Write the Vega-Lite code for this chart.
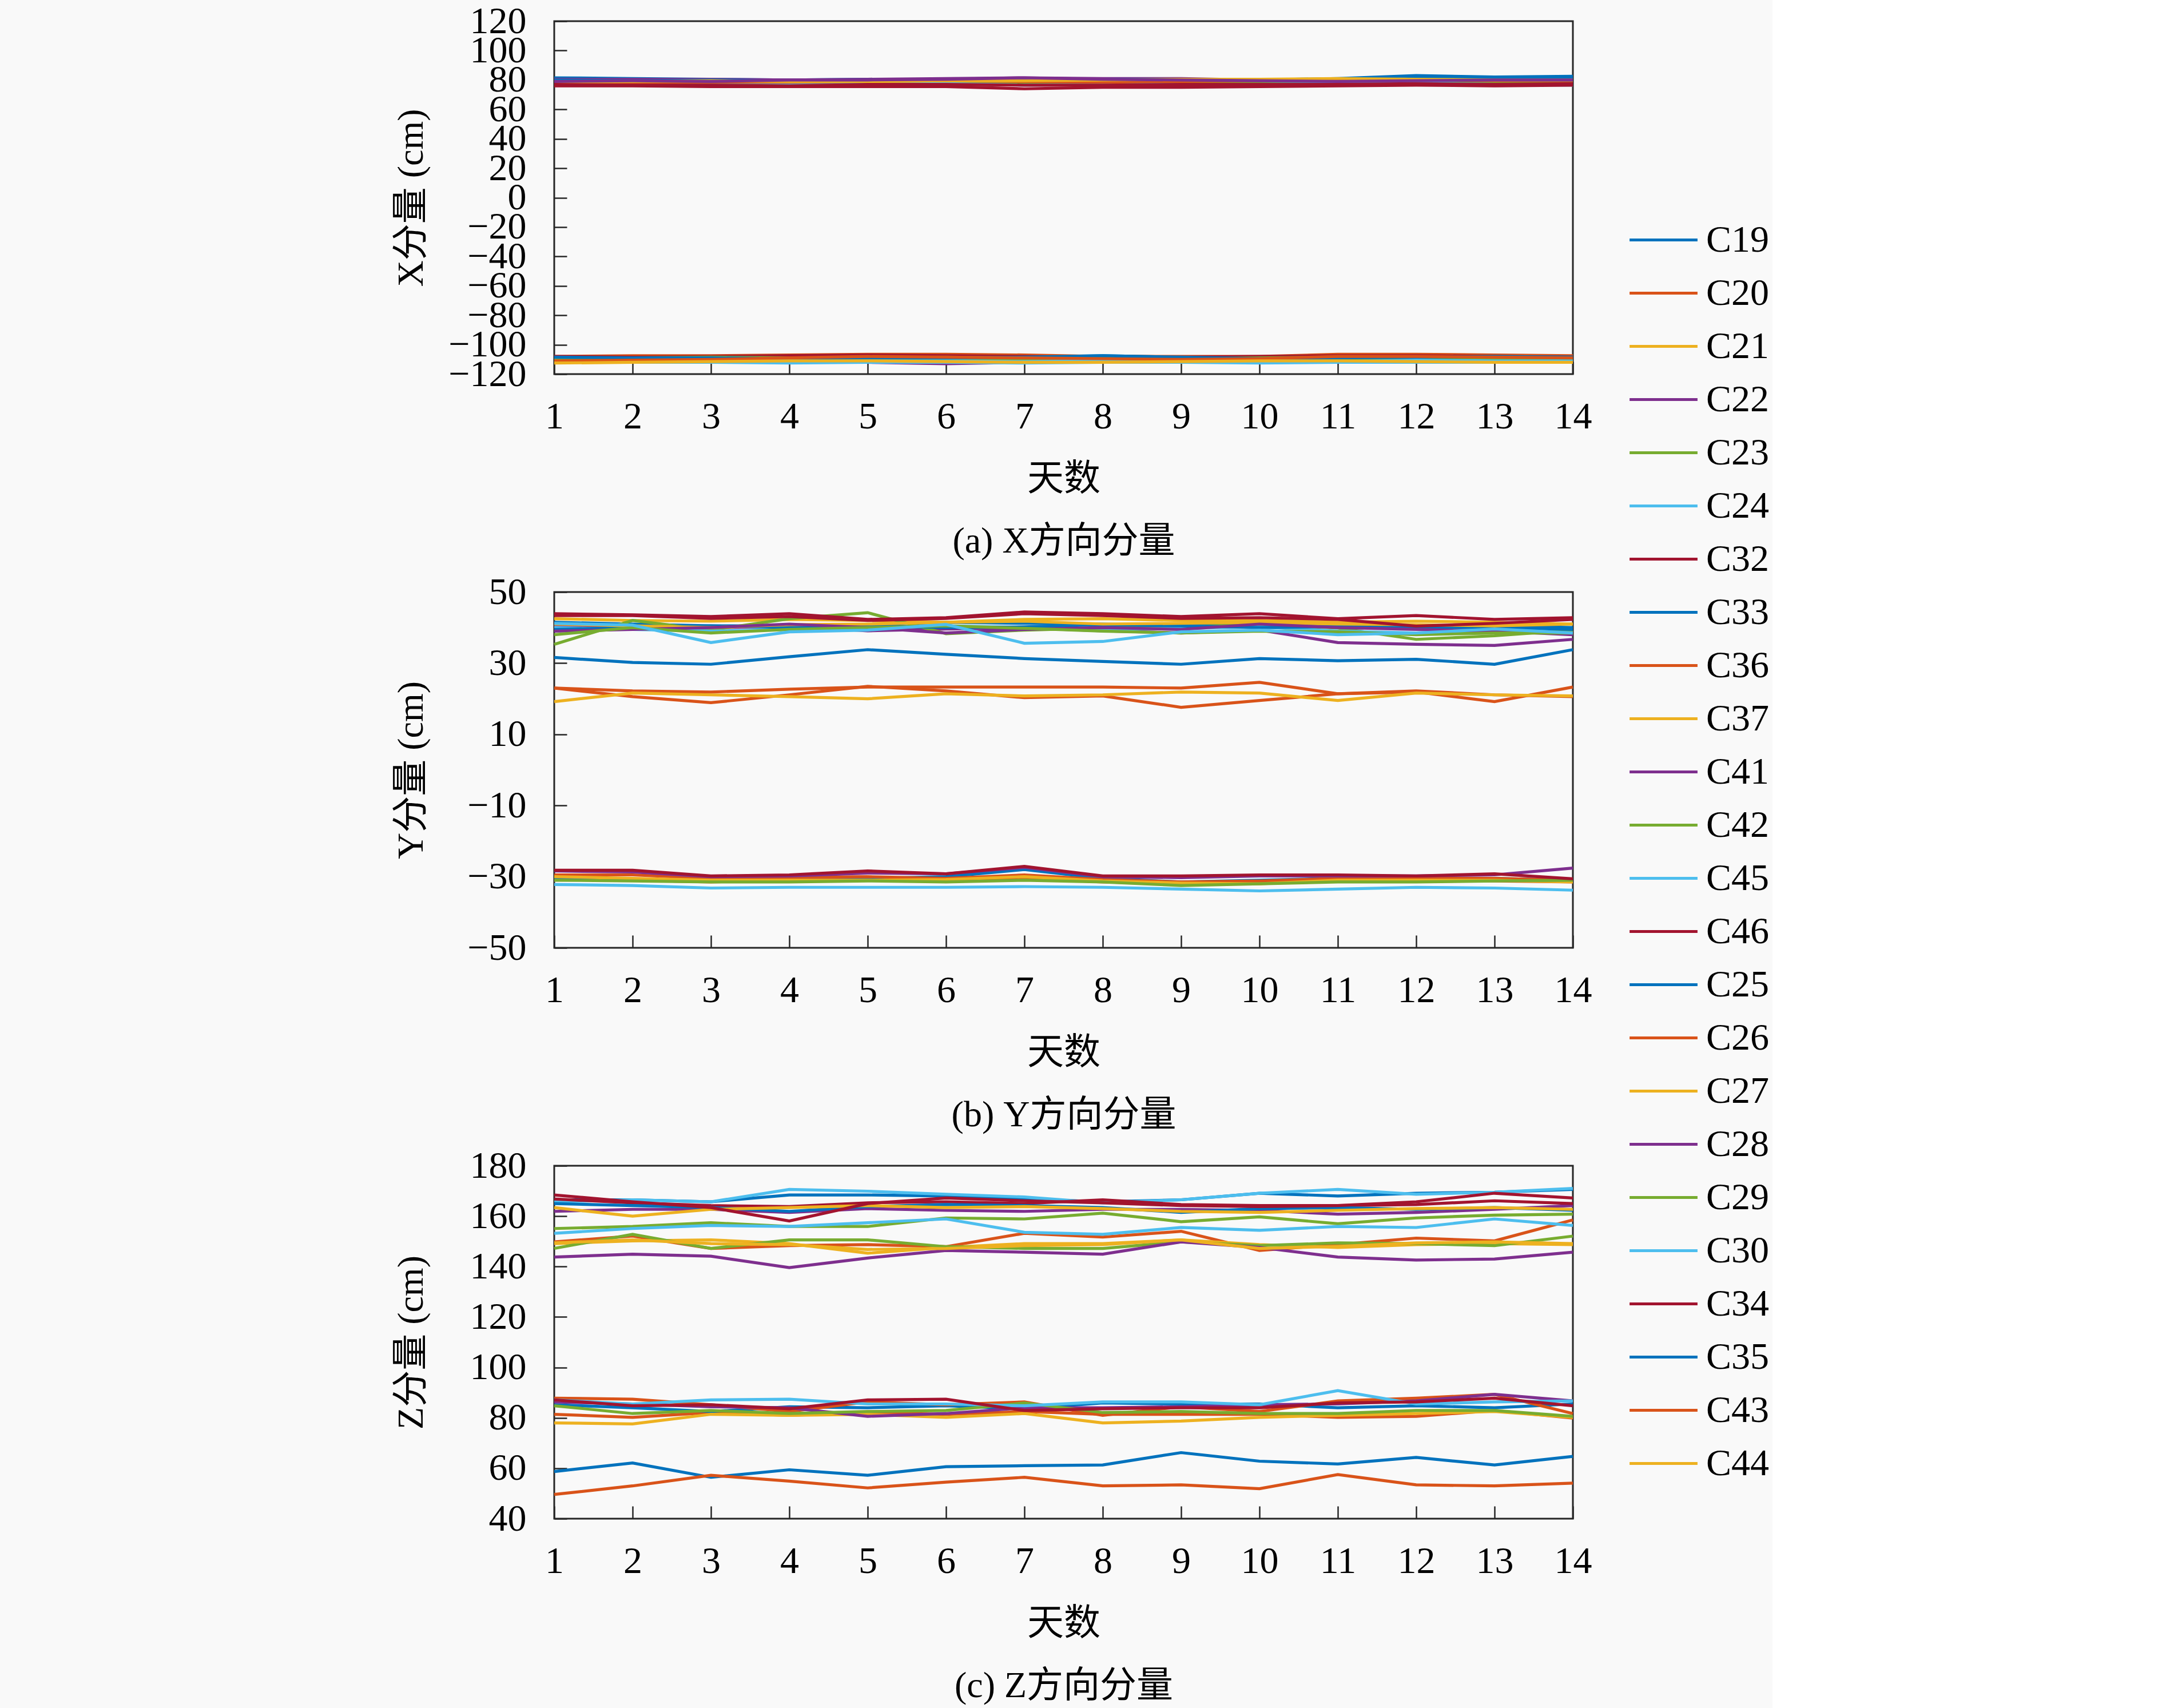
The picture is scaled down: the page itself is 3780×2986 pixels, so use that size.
{
  "$schema": "https://vega.github.io/schema/vega-lite/v6.json",
  "background": "#f9f9f9",
  "padding": {"left": 685, "top": 2, "right": 5, "bottom": 5},
  "data": {
    "values": [
      {"s":"C19","d":1,"x":81.5,"y":41.5,"z":166.5},{"s":"C19","d":2,"x":81,"y":41,"z":166.5},{"s":"C19","d":3,"x":80.5,"y":40.5,"z":165.7},{"s":"C19","d":4,"x":80,"y":40.5,"z":168.4},{"s":"C19","d":5,"x":80.5,"y":40.8,"z":168.4},{"s":"C19","d":6,"x":80,"y":41.5,"z":168},{"s":"C19","d":7,"x":80.5,"y":41.2,"z":166.8},{"s":"C19","d":8,"x":80.5,"y":41,"z":165.7},{"s":"C19","d":9,"x":80,"y":40.5,"z":166.5},{"s":"C19","d":10,"x":80,"y":41,"z":169.1},{"s":"C19","d":11,"x":81,"y":40.5,"z":168},{"s":"C19","d":12,"x":83,"y":40,"z":169.1},{"s":"C19","d":13,"x":82,"y":40.5,"z":169.5},{"s":"C19","d":14,"x":82.5,"y":40,"z":170.6},
      {"s":"C20","d":1,"x":78,"y":23,"z":149.8},{"s":"C20","d":2,"x":78.5,"y":22.2,"z":152.1},{"s":"C20","d":3,"x":79,"y":21.9,"z":147.2},{"s":"C20","d":4,"x":79,"y":22.7,"z":148.3},{"s":"C20","d":5,"x":79.5,"y":23.3,"z":148.7},{"s":"C20","d":6,"x":80,"y":23.3,"z":147.9},{"s":"C20","d":7,"x":79,"y":23.3,"z":153.2},{"s":"C20","d":8,"x":79,"y":23.3,"z":151.7},{"s":"C20","d":9,"x":79.5,"y":23,"z":154},{"s":"C20","d":10,"x":79,"y":24.6,"z":146.4},{"s":"C20","d":11,"x":79,"y":21.4,"z":148.7},{"s":"C20","d":12,"x":79.5,"y":22.2,"z":151.3},{"s":"C20","d":13,"x":79,"y":21.1,"z":150.2},{"s":"C20","d":14,"x":79,"y":20.6,"z":158.5},
      {"s":"C21","d":1,"x":79,"y":42.5,"z":149.1},{"s":"C21","d":2,"x":79,"y":42,"z":150.2},{"s":"C21","d":3,"x":78.5,"y":41.8,"z":150.6},{"s":"C21","d":4,"x":78.5,"y":42.3,"z":149.1},{"s":"C21","d":5,"x":78,"y":42,"z":145.3},{"s":"C21","d":6,"x":78,"y":41.5,"z":147.6},{"s":"C21","d":7,"x":78.5,"y":42.3,"z":149.1},{"s":"C21","d":8,"x":79,"y":42.5,"z":149.1},{"s":"C21","d":9,"x":79,"y":42,"z":150.6},{"s":"C21","d":10,"x":80.5,"y":42,"z":148.7},{"s":"C21","d":11,"x":80,"y":41.5,"z":147.6},{"s":"C21","d":12,"x":79.5,"y":41.8,"z":148.7},{"s":"C21","d":13,"x":79,"y":41.5,"z":149.1},{"s":"C21","d":14,"x":79.5,"y":41,"z":148.7},
      {"s":"C22","d":1,"x":80.5,"y":40.4,"z":161.9},{"s":"C22","d":2,"x":80.5,"y":39.9,"z":162.7},{"s":"C22","d":3,"x":80.5,"y":39.9,"z":162.7},{"s":"C22","d":4,"x":80,"y":40.4,"z":161.5},{"s":"C22","d":5,"x":80.5,"y":39.1,"z":163},{"s":"C22","d":6,"x":81,"y":39.6,"z":162.3},{"s":"C22","d":7,"x":81.5,"y":39.9,"z":161.9},{"s":"C22","d":8,"x":81,"y":39.1,"z":162.7},{"s":"C22","d":9,"x":81,"y":38.5,"z":162.7},{"s":"C22","d":10,"x":80,"y":39.3,"z":162.3},{"s":"C22","d":11,"x":80,"y":35.8,"z":160.8},{"s":"C22","d":12,"x":80.5,"y":35.3,"z":161.5},{"s":"C22","d":13,"x":80.5,"y":35,"z":162.7},{"s":"C22","d":14,"x":81,"y":36.7,"z":164.2},
      {"s":"C23","d":1,"x":78,"y":35.3,"z":147.2},{"s":"C23","d":2,"x":77.5,"y":42,"z":152.8},{"s":"C23","d":3,"x":77,"y":39.3,"z":147.2},{"s":"C23","d":4,"x":78,"y":42.5,"z":150.6},{"s":"C23","d":5,"x":78,"y":44.2,"z":150.6},{"s":"C23","d":6,"x":78,"y":38.3,"z":147.9},{"s":"C23","d":7,"x":77.5,"y":39.3,"z":147.2},{"s":"C23","d":8,"x":78,"y":39.9,"z":147.2},{"s":"C23","d":9,"x":78.5,"y":40.1,"z":149.8},{"s":"C23","d":10,"x":78,"y":40.9,"z":148.3},{"s":"C23","d":11,"x":78,"y":39.9,"z":149.4},{"s":"C23","d":12,"x":78.5,"y":36.7,"z":149.1},{"s":"C23","d":13,"x":78,"y":37.7,"z":148.3},{"s":"C23","d":14,"x":78,"y":39.3,"z":152.1},
      {"s":"C24","d":1,"x":77.5,"y":40,"z":165.7},{"s":"C24","d":2,"x":77,"y":39.5,"z":166.5},{"s":"C24","d":3,"x":77,"y":39,"z":165.7},{"s":"C24","d":4,"x":77,"y":39.5,"z":170.6},{"s":"C24","d":5,"x":77.5,"y":40,"z":169.9},{"s":"C24","d":6,"x":77.5,"y":40.5,"z":168.7},{"s":"C24","d":7,"x":76.5,"y":40,"z":167.6},{"s":"C24","d":8,"x":77,"y":39.5,"z":165.3},{"s":"C24","d":9,"x":77,"y":39.8,"z":166.5},{"s":"C24","d":10,"x":77,"y":40.2,"z":169.1},{"s":"C24","d":11,"x":77.5,"y":39,"z":170.6},{"s":"C24","d":12,"x":78,"y":38.5,"z":168.7},{"s":"C24","d":13,"x":77,"y":38.8,"z":169.5},{"s":"C24","d":14,"x":76.5,"y":38.5,"z":171},
      {"s":"C32","d":1,"x":76,"y":43.9,"z":166.8},{"s":"C32","d":2,"x":76,"y":43.6,"z":165.3},{"s":"C32","d":3,"x":75.5,"y":43.1,"z":164.2},{"s":"C32","d":4,"x":75.5,"y":43.9,"z":163.8},{"s":"C32","d":5,"x":75.5,"y":42.3,"z":165.3},{"s":"C32","d":6,"x":75.5,"y":42.8,"z":165.7},{"s":"C32","d":7,"x":74,"y":44.4,"z":165},{"s":"C32","d":8,"x":75,"y":43.9,"z":166.5},{"s":"C32","d":9,"x":75,"y":43.1,"z":164.6},{"s":"C32","d":10,"x":75.5,"y":43.9,"z":164.2},{"s":"C32","d":11,"x":76,"y":42.5,"z":164.2},{"s":"C32","d":12,"x":76.5,"y":43.4,"z":164.6},{"s":"C32","d":13,"x":76,"y":42.3,"z":166.1},{"s":"C32","d":14,"x":76.5,"y":42.8,"z":165},
      {"s":"C33","d":1,"x":-109,"y":39.5,"z":165},{"s":"C33","d":2,"x":-108.5,"y":40,"z":164.2},{"s":"C33","d":3,"x":-108,"y":40.5,"z":163.4},{"s":"C33","d":4,"x":-108,"y":40,"z":161.9},{"s":"C33","d":5,"x":-107.5,"y":40.5,"z":163.8},{"s":"C33","d":6,"x":-108,"y":40,"z":164.6},{"s":"C33","d":7,"x":-108.5,"y":40.2,"z":164.2},{"s":"C33","d":8,"x":-107.5,"y":40.8,"z":163.4},{"s":"C33","d":9,"x":-108.5,"y":40.5,"z":161.5},{"s":"C33","d":10,"x":-109,"y":40,"z":163},{"s":"C33","d":11,"x":-108,"y":40.3,"z":163.4},{"s":"C33","d":12,"x":-108,"y":40,"z":162.7},{"s":"C33","d":13,"x":-108.5,"y":40,"z":163.4},{"s":"C33","d":14,"x":-108,"y":39.5,"z":162.3},
      {"s":"C36","d":1,"x":-108,"y":-30.8,"z":81.4},{"s":"C36","d":2,"x":-107.5,"y":-31,"z":80.2},{"s":"C36","d":3,"x":-107.5,"y":-31.5,"z":82.1},{"s":"C36","d":4,"x":-107,"y":-31,"z":81},{"s":"C36","d":5,"x":-106.5,"y":-31,"z":82.1},{"s":"C36","d":6,"x":-106.5,"y":-31.2,"z":81.4},{"s":"C36","d":7,"x":-107,"y":-30.5,"z":82.5},{"s":"C36","d":8,"x":-108,"y":-31.5,"z":81.4},{"s":"C36","d":9,"x":-108,"y":-32,"z":81.4},{"s":"C36","d":10,"x":-108,"y":-31.8,"z":81.4},{"s":"C36","d":11,"x":-106.5,"y":-31.2,"z":80.2},{"s":"C36","d":12,"x":-106.5,"y":-31,"z":80.6},{"s":"C36","d":13,"x":-107,"y":-31.2,"z":82.9},{"s":"C36","d":14,"x":-107.5,"y":-31.5,"z":79.9},
      {"s":"C37","d":1,"x":-110,"y":41,"z":163.4},{"s":"C37","d":2,"x":-110,"y":40.5,"z":160},{"s":"C37","d":3,"x":-109.5,"y":40,"z":162.7},{"s":"C37","d":4,"x":-109.5,"y":40.8,"z":163.4},{"s":"C37","d":5,"x":-109,"y":41,"z":164.2},{"s":"C37","d":6,"x":-109,"y":41.5,"z":163.4},{"s":"C37","d":7,"x":-109.5,"y":41.8,"z":163.8},{"s":"C37","d":8,"x":-110,"y":41,"z":163},{"s":"C37","d":9,"x":-110,"y":41.2,"z":161.9},{"s":"C37","d":10,"x":-109.5,"y":41.5,"z":161.5},{"s":"C37","d":11,"x":-109.5,"y":41,"z":162.3},{"s":"C37","d":12,"x":-109.5,"y":40.8,"z":163},{"s":"C37","d":13,"x":-109,"y":40.5,"z":163.4},{"s":"C37","d":14,"x":-109,"y":41,"z":162.7},
      {"s":"C41","d":1,"x":-111,"y":39,"z":143.8},{"s":"C41","d":2,"x":-112,"y":39.5,"z":144.9},{"s":"C41","d":3,"x":-111,"y":40,"z":144.1},{"s":"C41","d":4,"x":-111,"y":41,"z":139.6},{"s":"C41","d":5,"x":-112,"y":40,"z":143.4},{"s":"C41","d":6,"x":-113,"y":38.5,"z":146.4},{"s":"C41","d":7,"x":-112,"y":39.5,"z":145.7},{"s":"C41","d":8,"x":-111.5,"y":40,"z":144.9},{"s":"C41","d":9,"x":-111,"y":39.5,"z":149.8},{"s":"C41","d":10,"x":-112,"y":41,"z":147.6},{"s":"C41","d":11,"x":-112,"y":40,"z":143.8},{"s":"C41","d":12,"x":-112,"y":39.5,"z":142.6},{"s":"C41","d":13,"x":-111.5,"y":39,"z":143},{"s":"C41","d":14,"x":-111,"y":38,"z":145.7},
      {"s":"C42","d":1,"x":-110,"y":38,"z":155.1},{"s":"C42","d":2,"x":-109.5,"y":40,"z":155.9},{"s":"C42","d":3,"x":-110,"y":38.5,"z":157.4},{"s":"C42","d":4,"x":-110,"y":39.5,"z":155.9},{"s":"C42","d":5,"x":-109.5,"y":40,"z":155.9},{"s":"C42","d":6,"x":-110,"y":40.5,"z":159.3},{"s":"C42","d":7,"x":-110,"y":39.8,"z":158.9},{"s":"C42","d":8,"x":-110.5,"y":39,"z":161.2},{"s":"C42","d":9,"x":-110,"y":38.5,"z":157.8},{"s":"C42","d":10,"x":-109.5,"y":39,"z":159.7},{"s":"C42","d":11,"x":-110,"y":38.8,"z":157},{"s":"C42","d":12,"x":-109.5,"y":38,"z":159.3},{"s":"C42","d":13,"x":-110,"y":38.5,"z":160.4},{"s":"C42","d":14,"x":-110.5,"y":38.5,"z":160.8},
      {"s":"C45","d":1,"x":-111.5,"y":41.2,"z":153.2},{"s":"C45","d":2,"x":-111,"y":40.7,"z":155.1},{"s":"C45","d":3,"x":-111.5,"y":35.8,"z":156.3},{"s":"C45","d":4,"x":-111.5,"y":38.8,"z":155.9},{"s":"C45","d":5,"x":-111,"y":39.3,"z":157.4},{"s":"C45","d":6,"x":-111,"y":40.9,"z":158.9},{"s":"C45","d":7,"x":-111.5,"y":35.6,"z":153.6},{"s":"C45","d":8,"x":-111,"y":36.1,"z":152.8},{"s":"C45","d":9,"x":-111.5,"y":38.8,"z":155.5},{"s":"C45","d":10,"x":-112,"y":39.3,"z":154.4},{"s":"C45","d":11,"x":-111.5,"y":38,"z":155.9},{"s":"C45","d":12,"x":-110.5,"y":38.5,"z":155.5},{"s":"C45","d":13,"x":-111,"y":39.6,"z":158.9},{"s":"C45","d":14,"x":-111,"y":38.5,"z":156.3},
      {"s":"C46","d":1,"x":-108,"y":43.4,"z":168.4},{"s":"C46","d":2,"x":-108.5,"y":43.4,"z":165.7},{"s":"C46","d":3,"x":-108,"y":42.6,"z":163.4},{"s":"C46","d":4,"x":-107.5,"y":43.1,"z":158.1},{"s":"C46","d":5,"x":-107,"y":42,"z":165},{"s":"C46","d":6,"x":-107.5,"y":42.6,"z":167.2},{"s":"C46","d":7,"x":-108,"y":43.9,"z":166.1},{"s":"C46","d":8,"x":-108.5,"y":43.4,"z":165.3},{"s":"C46","d":9,"x":-108.5,"y":42.6,"z":164.2},{"s":"C46","d":10,"x":-108,"y":42.8,"z":163.8},{"s":"C46","d":11,"x":-107.5,"y":42.3,"z":164.2},{"s":"C46","d":12,"x":-107.5,"y":40.4,"z":165.7},{"s":"C46","d":13,"x":-108,"y":41.2,"z":169.1},{"s":"C46","d":14,"x":-108.5,"y":42.3,"z":167.2},
      {"s":"C25","d":1,"x":80,"y":-30.5,"z":85.2},{"s":"C25","d":2,"x":79.5,"y":-30.8,"z":84},{"s":"C25","d":3,"x":80,"y":-31,"z":82.5},{"s":"C25","d":4,"x":79.5,"y":-30.8,"z":84.4},{"s":"C25","d":5,"x":80,"y":-30.5,"z":84},{"s":"C25","d":6,"x":80,"y":-30,"z":84.8},{"s":"C25","d":7,"x":80,"y":-28,"z":83.6},{"s":"C25","d":8,"x":80.5,"y":-30.5,"z":85.9},{"s":"C25","d":9,"x":80.5,"y":-31.5,"z":85.5},{"s":"C25","d":10,"x":79.5,"y":-31,"z":85.5},{"s":"C25","d":11,"x":80,"y":-30.5,"z":84},{"s":"C25","d":12,"x":81,"y":-30.8,"z":84.8},{"s":"C25","d":13,"x":81,"y":-30.5,"z":84},{"s":"C25","d":14,"x":81,"y":-31,"z":85.5},
      {"s":"C26","d":1,"x":77,"y":-29.5,"z":87.8},{"s":"C26","d":2,"x":78,"y":-29.5,"z":87.4},{"s":"C26","d":3,"x":78.5,"y":-30.5,"z":85.2},{"s":"C26","d":4,"x":78.5,"y":-30.3,"z":82.5},{"s":"C26","d":5,"x":79,"y":-30,"z":86.3},{"s":"C26","d":6,"x":79.5,"y":-30.5,"z":85.2},{"s":"C26","d":7,"x":79,"y":-29.5,"z":86.3},{"s":"C26","d":8,"x":78.5,"y":-30.8,"z":81},{"s":"C26","d":9,"x":79,"y":-31.5,"z":84.4},{"s":"C26","d":10,"x":79.5,"y":-31.2,"z":82.5},{"s":"C26","d":11,"x":79.5,"y":-30.5,"z":86.7},{"s":"C26","d":12,"x":80,"y":-30.3,"z":87.8},{"s":"C26","d":13,"x":79.5,"y":-30.5,"z":89.3},{"s":"C26","d":14,"x":79.5,"y":-31,"z":81.7},
      {"s":"C27","d":1,"x":78.5,"y":-30,"z":78},{"s":"C27","d":2,"x":79,"y":-30.5,"z":77.6},{"s":"C27","d":3,"x":79.5,"y":-31,"z":81.4},{"s":"C27","d":4,"x":79,"y":-31,"z":81},{"s":"C27","d":5,"x":79,"y":-31,"z":81.4},{"s":"C27","d":6,"x":79.5,"y":-30.8,"z":80.2},{"s":"C27","d":7,"x":79.5,"y":-30,"z":81.7},{"s":"C27","d":8,"x":80,"y":-31.2,"z":78},{"s":"C27","d":9,"x":80.5,"y":-31.8,"z":78.7},{"s":"C27","d":10,"x":80.5,"y":-32,"z":80.2},{"s":"C27","d":11,"x":81,"y":-31,"z":81},{"s":"C27","d":12,"x":80.5,"y":-31,"z":81.7},{"s":"C27","d":13,"x":80,"y":-31,"z":82.5},{"s":"C27","d":14,"x":80,"y":-31.5,"z":80.2},
      {"s":"C28","d":1,"x":79,"y":-28.4,"z":86.3},{"s":"C28","d":2,"x":79.5,"y":-28.7,"z":85.5},{"s":"C28","d":3,"x":79,"y":-30,"z":84.4},{"s":"C28","d":4,"x":80,"y":-29.8,"z":84},{"s":"C28","d":5,"x":80,"y":-29,"z":80.6},{"s":"C28","d":6,"x":80.5,"y":-29.2,"z":81.7},{"s":"C28","d":7,"x":81.5,"y":-27.4,"z":84},{"s":"C28","d":8,"x":80.5,"y":-30,"z":84},{"s":"C28","d":9,"x":80,"y":-30.3,"z":84.4},{"s":"C28","d":10,"x":79.5,"y":-29.8,"z":85.2},{"s":"C28","d":11,"x":79,"y":-29.8,"z":85.5},{"s":"C28","d":12,"x":79.5,"y":-29.8,"z":86.7},{"s":"C28","d":13,"x":80,"y":-29.5,"z":89.3},{"s":"C28","d":14,"x":80,"y":-27.6,"z":86.7},
      {"s":"C29","d":1,"x":-109,"y":-31,"z":84.8},{"s":"C29","d":2,"x":-109,"y":-31.2,"z":81.7},{"s":"C29","d":3,"x":-108.5,"y":-31.5,"z":82.9},{"s":"C29","d":4,"x":-109,"y":-31.5,"z":81.7},{"s":"C29","d":5,"x":-109,"y":-31.2,"z":82.5},{"s":"C29","d":6,"x":-108.5,"y":-31.5,"z":82.9},{"s":"C29","d":7,"x":-109,"y":-31,"z":85.9},{"s":"C29","d":8,"x":-109,"y":-31.5,"z":82.1},{"s":"C29","d":9,"x":-109.5,"y":-32.5,"z":82.5},{"s":"C29","d":10,"x":-109,"y":-32,"z":81.7},{"s":"C29","d":11,"x":-108.5,"y":-31.5,"z":81.7},{"s":"C29","d":12,"x":-108.5,"y":-31.5,"z":82.9},{"s":"C29","d":13,"x":-109,"y":-31.2,"z":82.9},{"s":"C29","d":14,"x":-109,"y":-31,"z":80.6},
      {"s":"C30","d":1,"x":-112,"y":-32.2,"z":87.1},{"s":"C30","d":2,"x":-112,"y":-32.5,"z":85.5},{"s":"C30","d":3,"x":-112,"y":-33.2,"z":87.1},{"s":"C30","d":4,"x":-112.5,"y":-33,"z":87.4},{"s":"C30","d":5,"x":-112,"y":-33,"z":85.5},{"s":"C30","d":6,"x":-112,"y":-33,"z":85.5},{"s":"C30","d":7,"x":-112.5,"y":-32.8,"z":84.8},{"s":"C30","d":8,"x":-112,"y":-33,"z":86.3},{"s":"C30","d":9,"x":-112,"y":-33.5,"z":86.3},{"s":"C30","d":10,"x":-112.5,"y":-34,"z":85.2},{"s":"C30","d":11,"x":-112,"y":-33.5,"z":90.8},{"s":"C30","d":12,"x":-112,"y":-33,"z":85.5},{"s":"C30","d":13,"x":-112,"y":-33.2,"z":86.3},{"s":"C30","d":14,"x":-112,"y":-33.8,"z":86.7},
      {"s":"C34","d":1,"x":77,"y":-28.2,"z":87.1},{"s":"C34","d":2,"x":76.5,"y":-28.2,"z":84.8},{"s":"C34","d":3,"x":76.5,"y":-29.8,"z":85.2},{"s":"C34","d":4,"x":76,"y":-29.5,"z":83.6},{"s":"C34","d":5,"x":77,"y":-28.4,"z":87.1},{"s":"C34","d":6,"x":77,"y":-29.2,"z":87.4},{"s":"C34","d":7,"x":76.5,"y":-27.1,"z":82.9},{"s":"C34","d":8,"x":76.5,"y":-29.8,"z":83.6},{"s":"C34","d":9,"x":77,"y":-29.8,"z":84},{"s":"C34","d":10,"x":77,"y":-29.5,"z":84},{"s":"C34","d":11,"x":77,"y":-29.5,"z":85.9},{"s":"C34","d":12,"x":77.5,"y":-29.8,"z":86.3},{"s":"C34","d":13,"x":77,"y":-29.2,"z":87.8},{"s":"C34","d":14,"x":77.5,"y":-30.6,"z":84.8},
      {"s":"C35","d":1,"x":-108.5,"y":31.6,"z":58.7},{"s":"C35","d":2,"x":-109,"y":30.2,"z":62.1},{"s":"C35","d":3,"x":-109,"y":29.7,"z":56.4},{"s":"C35","d":4,"x":-109.5,"y":31.8,"z":59.4},{"s":"C35","d":5,"x":-109,"y":33.8,"z":57.2},{"s":"C35","d":6,"x":-109,"y":32.5,"z":60.6},{"s":"C35","d":7,"x":-108.5,"y":31.3,"z":61},{"s":"C35","d":8,"x":-107.5,"y":30.5,"z":61.3},{"s":"C35","d":9,"x":-108.5,"y":29.7,"z":66.2},{"s":"C35","d":10,"x":-109.5,"y":31.3,"z":62.8},{"s":"C35","d":11,"x":-109,"y":30.7,"z":61.7},{"s":"C35","d":12,"x":-108.5,"y":31.1,"z":64.3},{"s":"C35","d":13,"x":-108,"y":29.7,"z":61.3},{"s":"C35","d":14,"x":-108.5,"y":33.8,"z":64.7},
      {"s":"C43","d":1,"x":-111,"y":23,"z":49.6},{"s":"C43","d":2,"x":-110.5,"y":20.6,"z":53},{"s":"C43","d":3,"x":-110,"y":18.9,"z":57.2},{"s":"C43","d":4,"x":-109,"y":21.1,"z":54.9},{"s":"C43","d":5,"x":-108,"y":23.5,"z":52.2},{"s":"C43","d":6,"x":-108.5,"y":22.2,"z":54.5},{"s":"C43","d":7,"x":-109,"y":20.3,"z":56.4},{"s":"C43","d":8,"x":-109.5,"y":20.8,"z":53},{"s":"C43","d":9,"x":-110,"y":17.6,"z":53.4},{"s":"C43","d":10,"x":-109.5,"y":19.5,"z":51.9},{"s":"C43","d":11,"x":-108,"y":21.4,"z":57.5},{"s":"C43","d":12,"x":-108,"y":21.9,"z":53.4},{"s":"C43","d":13,"x":-108.5,"y":19.2,"z":53},{"s":"C43","d":14,"x":-109,"y":23.3,"z":54.1},
      {"s":"C44","d":1,"x":-112.5,"y":19.2,"z":149.4},{"s":"C44","d":2,"x":-112,"y":21.6,"z":150.6},{"s":"C44","d":3,"x":-111.5,"y":21.1,"z":149.1},{"s":"C44","d":4,"x":-111,"y":20.6,"z":148.7},{"s":"C44","d":5,"x":-111,"y":20,"z":146.8},{"s":"C44","d":6,"x":-111.5,"y":21.4,"z":147.2},{"s":"C44","d":7,"x":-112,"y":20.8,"z":148.3},{"s":"C44","d":8,"x":-112,"y":21.1,"z":148.7},{"s":"C44","d":9,"x":-111.5,"y":21.9,"z":150.6},{"s":"C44","d":10,"x":-111,"y":21.6,"z":147.2},{"s":"C44","d":11,"x":-111,"y":19.5,"z":148},{"s":"C44","d":12,"x":-111.5,"y":21.6,"z":149.4},{"s":"C44","d":13,"x":-112,"y":21.1,"z":149.8},{"s":"C44","d":14,"x":-112,"y":20.8,"z":149.1}
    ]
  },
  "spacing": 381,
  "bounds": "flush",
  "vconcat": [
    {
      "width": 1781,
      "height": 617,
      "mark": {"type": "line", "strokeWidth": 5.2},
      "encoding": {
        "x": {
          "field": "d", "type": "quantitative",
          "scale": {"domain": [1, 14]},
          "axis": {"values": [1,2,3,4,5,6,7,8,9,10,11,12,13,14], "title": ["天数", "(a) X方向分量"], "titleY": 202, "titleX": 890.5}
        },
        "y": {
          "field": "x", "type": "quantitative",
          "scale": {"domain": [-120, 120]},
          "axis": {"values": [-120,-100,-80,-60,-40,-20,0,20,40,60,80,100,120], "title": "X分量 (cm)", "titleX": -250, "titleY": 308.5}
        },
        "color": {
          "field": "s", "type": "nominal",
          "scale": {
            "domain": ["C19","C20","C21","C22","C23","C24","C32","C33","C36","C37","C41","C42","C45","C46","C25","C26","C27","C28","C29","C30","C34","C35","C43","C44"],
            "range": ["#0072BD","#D95319","#EDB120","#7E2F8E","#77AC30","#4DBEEE","#A2142F","#0072BD","#D95319","#EDB120","#7E2F8E","#77AC30","#4DBEEE","#A2142F","#0072BD","#D95319","#EDB120","#7E2F8E","#77AC30","#4DBEEE","#A2142F","#0072BD","#D95319","#EDB120"]
          },
          "legend": {"orient": "none", "legendX": 1893, "legendY": 336, "title": null}
        }
      }
    },
    {
      "width": 1781,
      "height": 622,
      "mark": {"type": "line", "strokeWidth": 5.2},
      "encoding": {
        "x": {
          "field": "d", "type": "quantitative",
          "scale": {"domain": [1, 14]},
          "axis": {"values": [1,2,3,4,5,6,7,8,9,10,11,12,13,14], "title": ["天数", "(b) Y方向分量"], "titleY": 202, "titleX": 890.5}
        },
        "y": {
          "field": "y", "type": "quantitative",
          "scale": {"domain": [-50, 50]},
          "axis": {"values": [-50,-30,-10,10,30,50], "title": "Y分量 (cm)", "titleX": -250, "titleY": 311}
        },
        "color": {"field": "s", "type": "nominal"}
      }
    },
    {
      "width": 1781,
      "height": 617,
      "mark": {"type": "line", "strokeWidth": 5.2},
      "encoding": {
        "x": {
          "field": "d", "type": "quantitative",
          "scale": {"domain": [1, 14]},
          "axis": {"values": [1,2,3,4,5,6,7,8,9,10,11,12,13,14], "title": ["天数", "(c) Z方向分量"], "titleY": 202, "titleX": 890.5}
        },
        "y": {
          "field": "z", "type": "quantitative",
          "scale": {"domain": [40, 180]},
          "axis": {"values": [40,60,80,100,120,140,160,180], "title": "Z分量 (cm)", "titleX": -250, "titleY": 308.5}
        },
        "color": {"field": "s", "type": "nominal"}
      }
    }
  ],
  "config": {
    "font": "Liberation Serif, Noto Sans CJK SC",
    "view": {"stroke": "#262626", "strokeWidth": 3},
    "axis": {
      "domain": false,
      "grid": false,
      "ticks": true,
      "tickSize": -22,
      "tickColor": "#262626",
      "tickWidth": 2.5,
      "labelFont": "Liberation Serif",
      "labelFontSize": 66,
      "labelColor": "#000000",
      "labelOverlap": false,
      "labelFlush": false,
      "labelBound": false,
      "titleFont": "Liberation Serif, Noto Sans CJK SC",
      "titleFontSize": 64,
      "titleFontWeight": "normal",
      "titleColor": "#000000",
      "titleAlign": "center"
    },
    "axisX": {"labelPadding": 64, "titleBaseline": "alphabetic", "titleLineHeight": 109, "titleAngle": 0},
    "axisY": {"labelPadding": 71, "titleBaseline": "middle", "titleAngle": -90},
    "legend": {
      "symbolType": "M-1.35,0L1.35,0",
      "symbolSize": 7744,
      "symbolStrokeWidth": 5,
      "labelFont": "Liberation Serif",
      "labelFontSize": 66,
      "labelColor": "#000000",
      "labelOffset": 28,
      "rowPadding": 13,
      "padding": 0,
      "symbolLimit": 30
    }
  }
}
